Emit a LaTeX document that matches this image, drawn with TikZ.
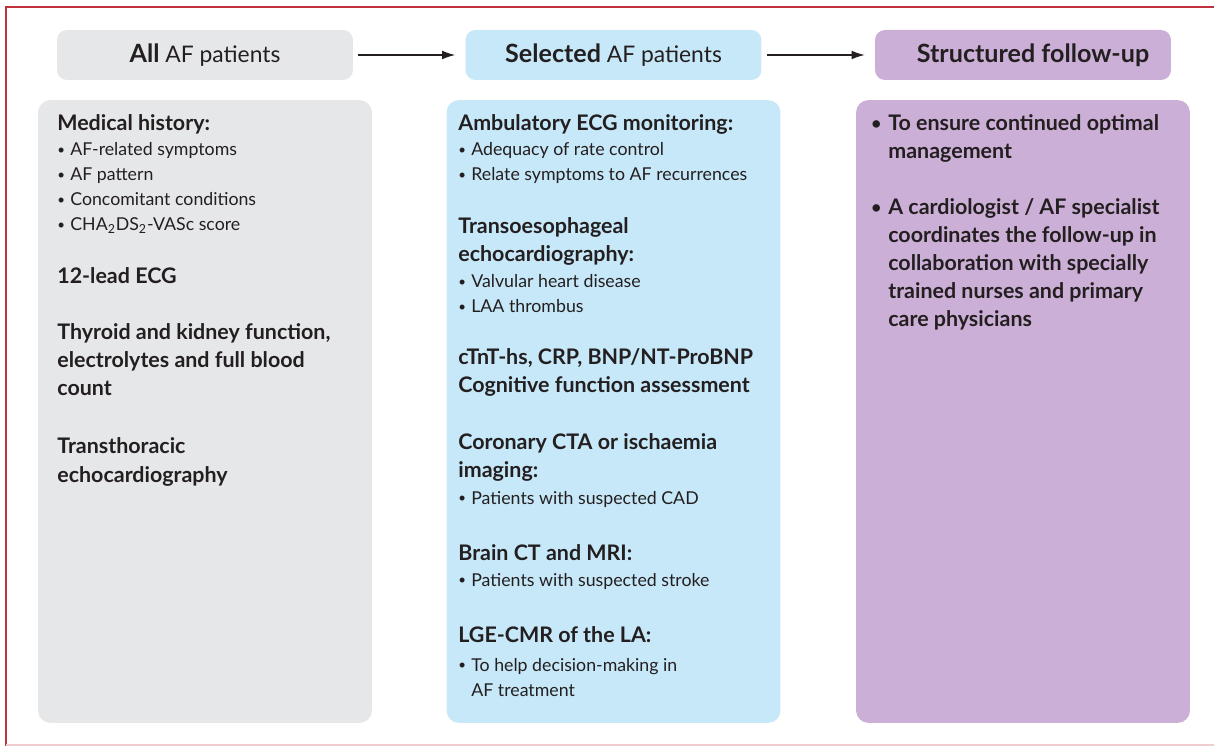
\documentclass[tikz,border=0pt]{standalone}
\usepackage{fontspec}
\setmainfont{Lato}
\usetikzlibrary{positioning}
\usetikzlibrary{arrows.meta}

\definecolor{frameRed}{HTML}{C0323E}
\definecolor{boxGray}{HTML}{E6E7E9}
\definecolor{boxBlue}{HTML}{C7E8F8}
\definecolor{boxPurple}{HTML}{CCAFD6}
\definecolor{inkDark}{HTML}{231F20}

\newcommand{\bul}{\makebox[0.26cm][l]{\raisebox{0.15ex}{\scalebox{0.75}{\textbullet}}}}
\newcommand{\bbul}{\makebox[0.34cm][l]{\raisebox{0.1ex}{\scalebox{0.8}{\textbullet}}}}
\newcommand{\hb}[1]{{\bfseries\fontsize{14.3}{16}\selectfont #1}}

\tikzset{
  head/.style={rounded corners=0.2cm, minimum width=5.92cm, minimum height=1cm,
    inner sep=0pt, text=inkDark, font=\fontsize{13}{16}\selectfont},
  body/.style={rounded corners=0.25cm, minimum width=6.68cm, minimum height=12.46cm, inner sep=0pt},
  hd/.style={anchor=base west, inner sep=0pt, text=inkDark, font=\bfseries\fontsize{12.2}{14}\selectfont},
  it/.style={anchor=base west, inner sep=0pt, text=inkDark, font=\fontsize{10.1}{12}\selectfont},
  arr/.style={-{Latex[length=7.5pt,width=5pt]}, line width=0.6pt, inkDark,
    shorten <=0.1cm, shorten >=0.2cm}
}

\begin{document}
\begin{tikzpicture}[x=0.02cm,y=-0.02cm]
  \useasboundingbox (0,0) rectangle (1214,746);

  % frame
  \draw[frameRed, line width=0.05cm] (6,746) -- (6,7) -- (1214,7);
  \draw[frameRed!25, line width=0.04cm] (6,745) -- (1214,745);

  % top row
  \node[head, fill=boxGray] (hAll) at (205,55) {\hb{All} AF patients};
  \node[head, fill=boxBlue] (hSel) at (613.5,55) {\hb{Selected} AF patients};
  \node[head, fill=boxPurple] (hFol) at (1023,55) {\hspace*{0.4cm}\hb{Structured follow-up}};

  \draw[arr] (hAll) -- (hSel);
  \draw[arr] (hSel) -- (hFol);

  % columns
  \node[body, fill=boxGray] (bAll) at (205,411.5) {};
  \node[body, fill=boxBlue] (bSel) at (613.5,411.5) {};
  \node[body, fill=boxPurple] (bFol) at (1023,411.5) {};

  % all AF patients
  \foreach \yb/\st/\txt [count=\i] in {
      131/hd/{Medical history:},
      156/it/{\bul AF-related symptoms},
      181/it/{\bul AF pattern},
      206/it/{\bul Concomitant conditions},
      231/it/{\bul CHA\textsubscript{2}DS\textsubscript{2}-VASc score},
      284/hd/{12-lead ECG},
      340/hd/{Thyroid and kidney function,},
      368/hd/{electrolytes and full blood},
      396/hd/{count},
      454/hd/{Transthoracic},
      482/hd/{echocardiography}}
    \node[\st] (all\i) at (57,\yb) {\txt};

  % selected AF patients
  \foreach \yb/\st/\txt [count=\i] in {
      131/hd/{Ambulatory ECG monitoring:},
      156/it/{\bul Adequacy of rate control},
      181/it/{\bul Relate symptoms to AF recurrences},
      234/hd/{Transoesophageal},
      262/hd/{echocardiography:},
      288/it/{\bul Valvular heart disease},
      313/it/{\bul LAA thrombus},
      365/hd/{cTnT-hs, CRP, BNP/NT-ProBNP},
      393/hd/{Cognitive function assessment},
      450/hd/{Coronary CTA or ischaemia},
      478/hd/{imaging:},
      504/it/{\bul Patients with suspected CAD},
      560/hd/{Brain CT and MRI:},
      586/it/{\bul Patients with suspected stroke},
      642/hd/{LGE-CMR of the LA:},
      671/it/{\bul To help decision-making in},
      696/it/{\hspace*{0.26cm}AF treatment}}
    \node[\st] (sel\i) at (458,\yb) {\txt};

  % structured follow-up
  \foreach \yb/\txt [count=\i] in {
      131/{\bbul To ensure continued optimal},
      159/{\hspace*{0.34cm}management},
      215/{\bbul A cardiologist / AF specialist},
      243/{\hspace*{0.34cm}coordinates the follow-up in},
      271/{\hspace*{0.34cm}collaboration with specially},
      299/{\hspace*{0.34cm}trained nurses and primary},
      327/{\hspace*{0.34cm}care physicians}}
    \node[hd] (fol\i) at (871,\yb) {\txt};
\end{tikzpicture}
\end{document}
